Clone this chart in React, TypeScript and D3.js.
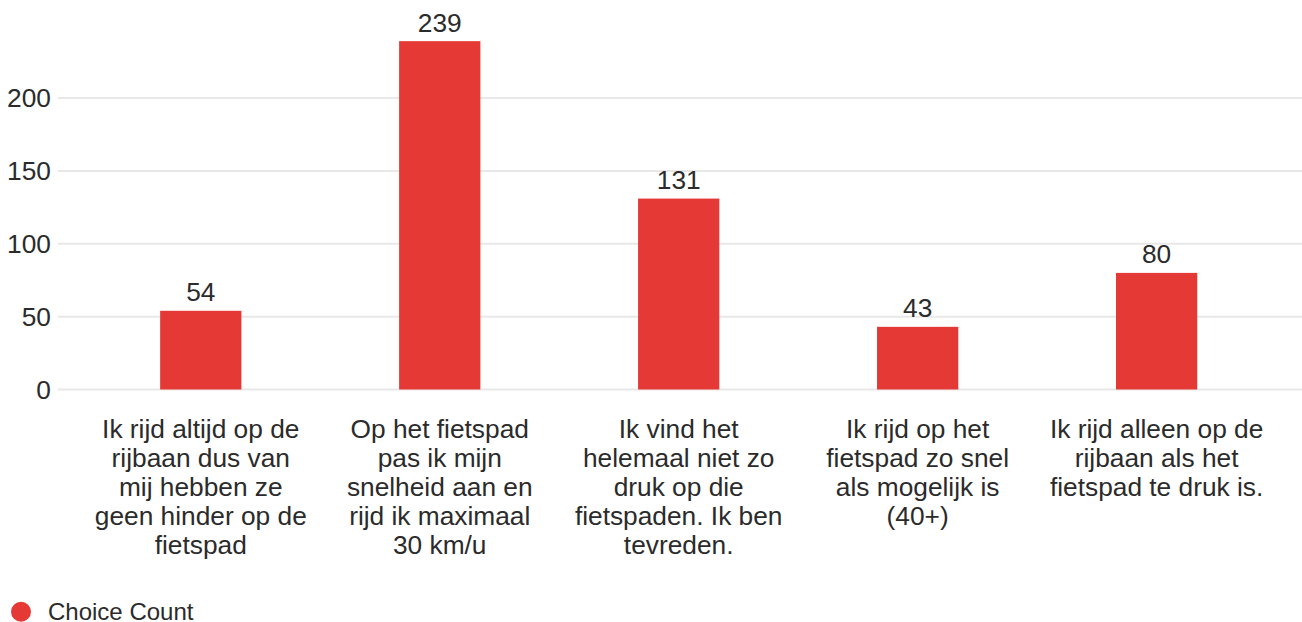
import React from "react";
import * as d3 from "d3";

const categories: string[] = [
  "Ik rijd altijd op de\nrijbaan dus van\nmij hebben ze\ngeen hinder op de\nfietspad",
  "Op het fietspad\npas ik mijn\nsnelheid aan en\nrijd ik maximaal\n30 km/u",
  "Ik vind het\nhelemaal niet zo\ndruk op die\nfietspaden. Ik ben\ntevreden.",
  "Ik rijd op het\nfietspad zo snel\nals mogelijk is\n(40+)",
  "Ik rijd alleen op de\nrijbaan als het\nfietspad te druk is.",
];
const counts: number[] = [54, 239, 131, 43, 80];
const yTicks: number[] = [0, 50, 100, 150, 200];
const seriesName = "Choice Count";

const W = 1302;
const H = 622;
const FONT = "'Liberation Sans', Arial, sans-serif";
const TEXT = "#2b2b2b";
const BAR = "#e53935";

export default function App() {
  const x = d3
    .scaleBand<string>()
    .domain(categories)
    .range([81.3, 1276.1])
    .paddingInner(0.66)
    .paddingOuter(0.33);
  const y = d3.scaleLinear().domain([0, 200]).range([389.5, 98]);
  const gridX0 = 58;
  const gridX1 = W;

  return (
    <svg
      width={W}
      height={H}
      style={{ position: "absolute", left: 0, top: 0, background: "#fff" }}
      fontFamily={FONT}
    >
      {yTicks.map((t) => (
        <g key={t}>
          <line x1={gridX0} x2={gridX1} y1={y(t)} y2={y(t)} stroke="#e8e8e8" strokeWidth={2} />
          <text x={51} y={y(t)} dy="0.36em" textAnchor="end" fontSize={26.3} fill={TEXT}>
            {t}
          </text>
        </g>
      ))}
      {categories.map((c, i) => {
        const bx = x(c) as number;
        const bw = x.bandwidth();
        const v = counts[i];
        return (
          <g key={i}>
            <rect x={bx} y={y(v)} width={bw} height={y(0) - y(v)} fill={BAR} />
            <text x={bx + bw / 2} y={y(v) - 9.5} textAnchor="middle" fontSize={26.3} fill={TEXT}>
              {v}
            </text>
            <text textAnchor="middle" fontSize={26.3} fill={TEXT}>
              {c.split("\n").map((line, j) => (
                <tspan key={j} x={bx + bw / 2} y={437.5 + j * 29}>
                  {line}
                </tspan>
              ))}
            </text>
          </g>
        );
      })}
      <circle cx={21} cy={611.7} r={10} fill={BAR} />
      <text x={48} y={620} fontSize={24} fill={TEXT}>
        {seriesName}
      </text>
    </svg>
  );
}
